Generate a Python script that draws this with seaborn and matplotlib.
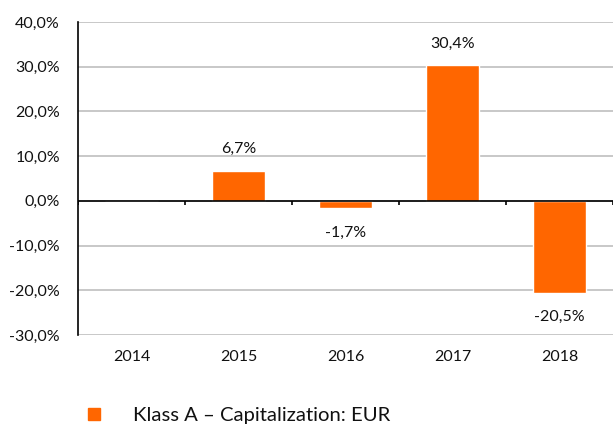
import matplotlib
matplotlib.use('Agg')
import matplotlib.pyplot as plt
from matplotlib.lines import Line2D
import seaborn as sns
import pandas as pd

# データ
years = ['2014', '2015', '2016', '2017', '2018']
returns = [0.0, 6.7, -1.7, 30.4, -20.5]
series_name = 'Klass A – Capitalization: EUR'
y_ticks = [-30, -20, -10, 0, 10, 20, 30, 40]

sns.set_theme(style='white')
plt.rcParams['font.family'] = ['Lato', 'DejaVu Sans']
plt.rcParams['font.size'] = 11.5

orange = '#FF6600'
txt = '#111111'
df = pd.DataFrame({'year': years, 'ret': returns})

fig = plt.figure(figsize=(6.14, 4.25), dpi=100)
ax = fig.add_axes([78 / 614, 1 - 335 / 425, 535 / 614, 313 / 425])

sns.barplot(data=df, x='year', y='ret', color=orange, saturation=1,
            width=0.5, ax=ax, zorder=3)

ax.set_ylim(-30, 40)
ax.set_xlim(-0.5, len(years) - 0.5)
ax.set_yticks(y_ticks)
ax.set_yticklabels([f'{v:.1f}%'.replace('.', ',') for v in y_ticks], color=txt)
ax.yaxis.grid(True, color='#BFBFBF', linewidth=1.2, zorder=0)
ax.set_axisbelow(True)
ax.tick_params(axis='y', length=0, pad=13, labelsize=11.5)
ax.tick_params(axis='x', length=0, pad=11, labelsize=11.5, labelcolor=txt)
ax.set_xlabel('')
ax.set_ylabel('')

for s in ['top', 'right', 'bottom']:
    ax.spines[s].set_visible(False)
ax.spines['left'].set_color('black')
ax.spines['left'].set_linewidth(1.2)

# ゼロライン + 区切りの目盛り
ax.axhline(0, color='black', linewidth=1.2, zorder=4)
for b in range(len(years) + 1):
    ax.plot([b - 0.5, b - 0.5], [0, -0.9], color='black', linewidth=1.2, zorder=4,
            solid_capstyle='butt')

# ラベル
for i, v in enumerate(returns):
    if v == 0:
        continue
    off = 15.5 if v > 0 else -17.5
    ax.annotate(f'{v:.1f}%'.replace('.', ','), (i, v), xytext=(0, off),
                textcoords='offset points', ha='center', va='center',
                fontsize=11.5, color=txt)

handle = Line2D([], [], marker='s', linestyle='none', color=orange, markersize=8.6)
fig.legend(handles=[handle], labels=[series_name], loc='center left',
           bbox_to_anchor=(55 / 614, 1 - 415 / 425), frameon=False,
           handletextpad=0.95, fontsize=14.6, labelcolor=txt)

fig.savefig('out.png', dpi=100)
